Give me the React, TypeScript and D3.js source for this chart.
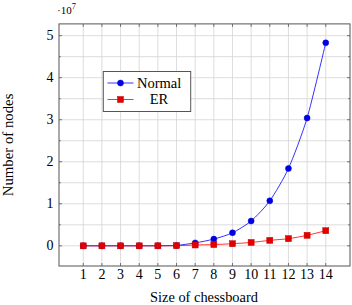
import React from 'react';
import * as d3 from 'd3';

const boardSizes = [1, 2, 3, 4, 5, 6, 7, 8, 9, 10, 11, 12, 13, 14];
const normalNodes = [5, 40, 300, 2000, 15000, 100000, 700000, 1600000, 3100000, 5900000, 10700000, 18400000, 30400000, 48300000];
const erNodes = [3, 20, 120, 800, 5000, 40000, 200000, 300000, 500000, 800000, 1300000, 1700000, 2500000, 3600000];
const yTicks = [0, 1, 2, 3, 4, 5];
const yGrid = [0, 0.5, 1, 1.5, 2, 2.5, 3, 3.5, 4, 4.5, 5];

const W = 352;
const H = 305;
const margin = { top: 23.9, right: 2, bottom: 39, left: 59 };
const font = '"Liberation Serif", serif';

const App = () => {
  const x = d3.scaleLinear().domain([-0.3, 15.3]).range([margin.left, W - margin.right]);
  const y = d3.scaleLinear().domain([-0.48, 5.28]).range([H - margin.bottom, margin.top]);
  const [x0, x1] = x.range();
  const [y0, y1] = y.range();

  const line = (vals: number[]) =>
    d3.line<number>()
      .x((d, i) => x(boardSizes[i]))
      .y(d => y(d / 1e7))
      .curve(d3.curveCardinal.tension(0.3))(vals) || '';

  return (
    <svg width={W} height={H} style={{ position: 'absolute', left: 0, top: 0, fontFamily: font }}>
      {/* grid */}
      {boardSizes.map(b => (
        <line key={'gx' + b} x1={x(b)} x2={x(b)} y1={y1} y2={y0} stroke="#d4d4d4" strokeWidth={0.8} />
      ))}
      {yGrid.map(v => (
        <line key={'gy' + v} x1={x0} x2={x1} y1={y(v)} y2={y(v)} stroke="#d4d4d4" strokeWidth={0.8} />
      ))}
      {/* ticks */}
      {boardSizes.map(b => (
        <g key={'tx' + b}>
          <line x1={x(b)} x2={x(b)} y1={y0} y2={y0 - 3} stroke="#555" strokeWidth={0.8} />
          <line x1={x(b)} x2={x(b)} y1={y1} y2={y1 + 3} stroke="#555" strokeWidth={0.8} />
          <text x={x(b)} y={y0 + 13} textAnchor="middle" fontSize={14}>{b}</text>
        </g>
      ))}
      {yGrid.map(v => {
        const len = Number.isInteger(v) ? 3 : 1.8;
        return (
          <g key={'ty' + v}>
            <line x1={x0} x2={x0 + len} y1={y(v)} y2={y(v)} stroke="#555" strokeWidth={0.8} />
            <line x1={x1} x2={x1 - len} y1={y(v)} y2={y(v)} stroke="#555" strokeWidth={0.8} />
          </g>
        );
      })}
      {yTicks.map(v => (
        <text key={'ly' + v} x={x0 - 5.5} y={y(v) + 4.6} textAnchor="end" fontSize={14}>{v}</text>
      ))}
      <text x={57} y={14} fontSize={11}>·10<tspan dy={-5} fontSize={8.5}>7</tspan></text>

      {/* series */}
      <path d={line(normalNodes)} fill="none" stroke="#0000ff" strokeWidth={0.8} />
      <path d={line(erNodes)} fill="none" stroke="#ff0000" strokeWidth={0.8} />
      {normalNodes.map((v, i) => (
        <circle key={'n' + i} cx={x(boardSizes[i])} cy={y(v / 1e7)} r={3} fill="#0000e6" stroke="#0000cc" strokeWidth={0.5} />
      ))}
      {erNodes.map((v, i) => (
        <rect key={'e' + i} x={x(boardSizes[i]) - 3} y={y(v / 1e7) - 3} width={6} height={6} fill="#e00000" stroke="#cc0000" strokeWidth={0.5} />
      ))}

      {/* frame */}
      <rect x={x0} y={y1} width={x1 - x0} height={y0 - y1} fill="none" stroke="#555" strokeWidth={1} />

      {/* legend */}
      <g>
        <rect x={103.3} y={71.5} width={87.4} height={40} fill="#fff" stroke="#555" strokeWidth={1} />
        <line x1={107.5} x2={133.5} y1={83} y2={83} stroke="#0000ff" strokeWidth={0.8} />
        <circle cx={120.5} cy={83} r={3} fill="#0000e6" stroke="#0000cc" strokeWidth={0.5} />
        <text x={137} y={87.5} fontSize={14.5}>Normal</text>
        <line x1={107.5} x2={133.5} y1={99.5} y2={99.5} stroke="#ff0000" strokeWidth={0.8} />
        <rect x={117.5} y={96.5} width={6} height={6} fill="#e00000" stroke="#cc0000" strokeWidth={0.5} />
        <text x={159} y={104} fontSize={14.5} textAnchor="middle">ER</text>
      </g>

      {/* axis labels */}
      <text x={204} y={302} textAnchor="middle" fontSize={14.4}>Size of chessboard</text>
      <text transform={`translate(13,${(y0 + y1) / 2}) rotate(-90)`} textAnchor="middle" fontSize={14.8}>Number of nodes</text>
    </svg>
  );
};

export default App;
